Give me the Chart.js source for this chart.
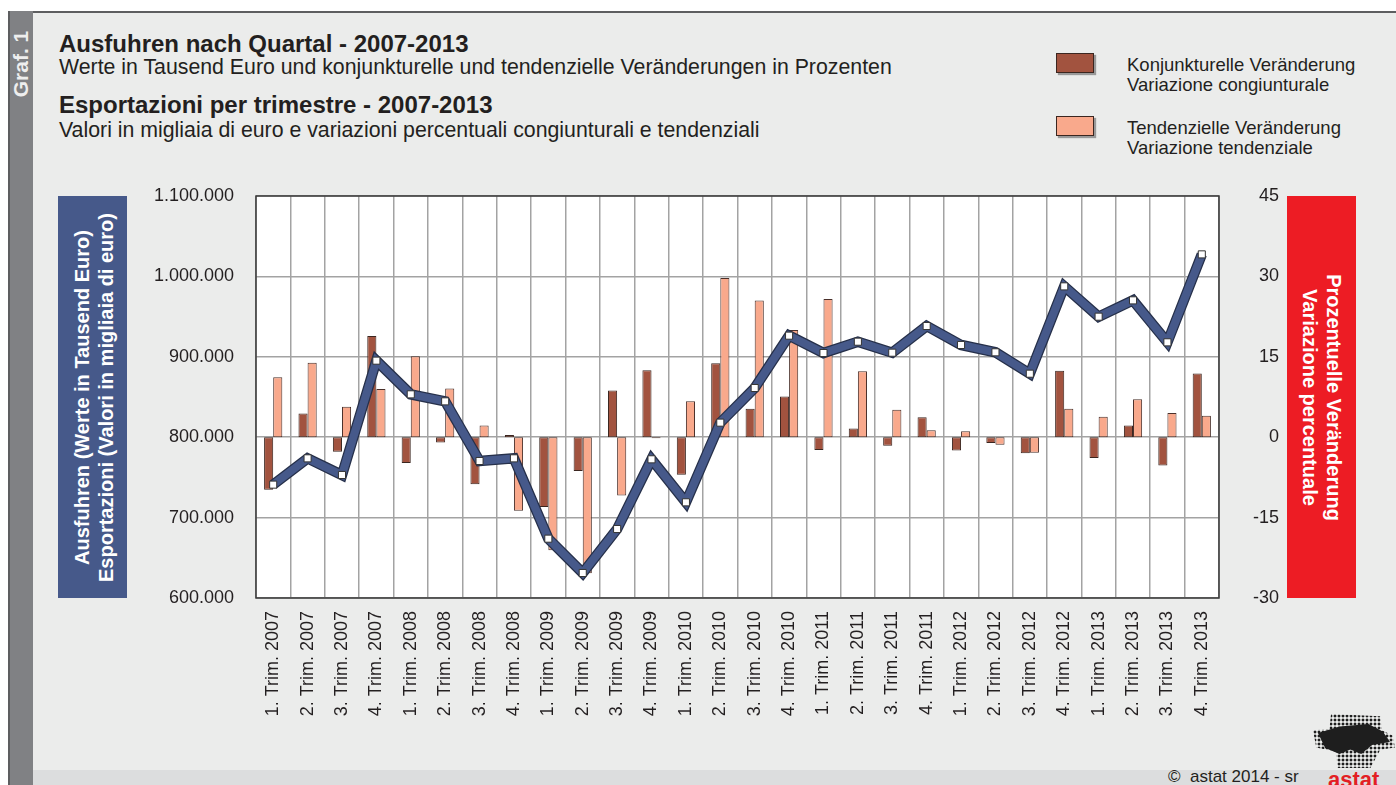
<!DOCTYPE html>
<html>
<head>
<meta charset="utf-8">
<script src="https://cdn.jsdelivr.net/npm/chart.js@4.4.0/dist/chart.umd.min.js"></script>
<style>
  body { margin:0; width:1396px; height:785px; overflow:hidden; background:#fff; position:relative;
         font-family:"Liberation Sans", Arial, sans-serif; color:#231f20; }
  .abs { position:absolute; white-space:nowrap; }
  #panel { position:absolute; left:8px; top:11px; width:1388px; height:774px; background:#ebeceb; border-top:2px solid #5d5e60; box-sizing:border-box; }
  #strip { position:absolute; left:8px; top:11px; width:25px; height:774px; background:#808184; border-left:2px solid #5d5e60; box-sizing:border-box; }
  #footer { position:absolute; left:33px; top:770px; width:1363px; height:15px; background:#dcddde; }
  .t1 { font-weight:bold; font-size:24px; line-height:24px; left:59px; }
  .t2 { font-size:21.3px; line-height:21px; left:59px; }
  .leg { left:1127px; font-size:18.5px; line-height:20px; }
  .box { position:absolute; left:1056px; width:38px; height:20px; border:1px solid #3b2620; box-sizing:border-box; box-shadow:2px 2px 1px rgba(0,0,0,0.35); }
  .side { position:absolute; top:196px; width:69px; height:402px; }
  .side div { position:absolute; left:-166.5px; top:166.5px; width:402px; height:69px; display:flex; flex-direction:column;
              justify-content:center; align-items:center; color:#fff; font-weight:bold; font-size:20px; line-height:24px; white-space:nowrap; }
  #logo { position:absolute; left:1313px; top:714px; width:82px; height:54px;
          background:radial-gradient(circle, #1e1e1e 1.3px, transparent 1.7px) 0 0/4px 4px;
          clip-path:polygon(22% 0,82% 4%,84% 30%,97% 40%,100% 62%,82% 66%,70% 100%,30% 100%,28% 70%,4% 62%,0 30%,20% 28%); }
  #logo2 { position:absolute; left:1318px; top:724px; width:72px; height:30px; background:#1e1e1e;
           clip-path:polygon(0 30%,30% 8%,70% 0,90% 25%,100% 60%,75% 70%,60% 100%,45% 85%,30% 100%,10% 80%); }
  canvas { position:absolute; left:0; top:0; }
</style>
</head>
<body>
<div id="panel"></div>
<div id="strip"></div>
<div id="footer"></div>
<div class="abs" style="left:11px;top:64px;width:20px;height:0;">
  <div style="position:absolute;left:-30px;top:-11px;width:80px;text-align:center;transform:rotate(-90deg);color:#eee;font-weight:bold;font-size:21px;line-height:22px;">Graf. 1</div>
</div>

<div class="abs t1" style="top:32px;">Ausfuhren nach Quartal - 2007-2013</div>
<div class="abs t2" style="top:57px;">Werte in Tausend Euro und konjunkturelle und tendenzielle Veränderungen in Prozenten</div>
<div class="abs t1" style="top:93px;">Esportazioni per trimestre - 2007-2013</div>
<div class="abs t2" style="top:120px;">Valori in migliaia di euro e variazioni percentuali congiunturali e tendenziali</div>

<div class="box" style="top:53px;background:#a2533f;"></div>
<div class="abs leg" style="top:55px;">Konjunkturelle Veränderung<br>Variazione congiunturale</div>
<div class="box" style="top:116px;background:#f9a98c;"></div>
<div class="abs leg" style="top:118px;">Tendenzielle Veränderung<br>Variazione tendenziale</div>

<div class="side" style="left:58px;background:#46598a;">
  <div style="transform:rotate(-90deg);"><span>Ausfuhren (Werte in Tausend Euro)</span><span>Esportazioni (Valori in migliaia di euro)</span></div>
</div>
<div class="side" style="left:1287px;background:#ed1c24;">
  <div style="transform:rotate(90deg);"><span>Prozentuelle Veränderung</span><span>Variazione percentuale</span></div>
</div>

<div id="logo"></div>
<div id="logo2"></div>
<div class="abs" style="left:1168px;top:767px;font-size:17px;line-height:20px;color:#231f20;">©&nbsp; astat 2014 - sr</div>
<div class="abs" style="left:1328px;top:769px;font-size:22px;line-height:22px;font-weight:bold;color:#e31e24;">astat</div>

<canvas id="myChart" width="1396" height="785"></canvas>

<script>
const labels = [
  "1. Trim. 2007", "2. Trim. 2007", "3. Trim. 2007", "4. Trim. 2007",
  "1. Trim. 2008", "2. Trim. 2008", "3. Trim. 2008", "4. Trim. 2008",
  "1. Trim. 2009", "2. Trim. 2009", "3. Trim. 2009", "4. Trim. 2009",
  "1. Trim. 2010", "2. Trim. 2010", "3. Trim. 2010", "4. Trim. 2010",
  "1. Trim. 2011", "2. Trim. 2011", "3. Trim. 2011", "4. Trim. 2011",
  "1. Trim. 2012", "2. Trim. 2012", "3. Trim. 2012", "4. Trim. 2012",
  "1. Trim. 2013", "2. Trim. 2013", "3. Trim. 2013", "4. Trim. 2013"
];

// exports, thousand euro (left axis)
const exportsK = [
  741000, 773700, 753000, 895200,
  853300, 844600, 770400, 773700,
  673800, 631100, 685800, 772500,
  719000, 818100, 861200, 926300,
  904700, 918800, 905100, 938300,
  914700, 905600, 879000, 987600,
  949900, 970200, 918000, 1027400
];

// konjunkturelle Veraenderung / variazione congiunturale (%)
const qoqPct = [
  -9.8, 4.4, -2.7, 18.9,
  -4.8, -1.0, -8.8, 0.4,
  -13.0, -6.3, 8.7, 12.5,
  -7.0, 13.8, 5.3, 7.6,
  -2.4, 1.6, -1.6, 3.7,
  -2.5, -1.1, -3.0, 12.4,
  -3.9, 2.2, -5.3, 11.9
];

// tendenzielle Veraenderung / variazione tendenziale (%)
const yoyPct = [
  11.2, 13.9, 5.7, 9.0,
  15.1, 9.1, 2.2, -13.7,
  -21.1, -25.4, -10.9, -0.2,
  6.7, 29.7, 25.5, 20.0,
  25.8, 12.3, 5.1, 1.3,
  1.1, -1.4, -2.9, 5.3,
  3.8, 7.1, 4.5, 4.0
];

const FONT = "'Liberation Sans', Arial, sans-serif";
const TEXT = "#231f20";
const GRID = "#a3a3a3";

function dotted(v) {
  return String(v).replace(/\B(?=(\d{3})+(?!\d))/g, ".");
}

const plotFrame = {
  id: "plotFrame",
  beforeDraw(chart) {
    const { ctx, chartArea: a } = chart;
    ctx.save();
    ctx.fillStyle = "#fff";
    ctx.fillRect(a.left, a.top, a.right - a.left, a.bottom - a.top);
    ctx.restore();
  },
  afterDraw(chart) {
    const { ctx, chartArea: a } = chart;
    ctx.save();
    ctx.strokeStyle = "#3a3a3a";
    ctx.lineWidth = 1.5;
    ctx.strokeRect(a.left, a.top, a.right - a.left, a.bottom - a.top);
    ctx.restore();
  }
};

const ctx = document.getElementById("myChart").getContext("2d");

new Chart(ctx, {
  type: "bar",
  data: {
    labels: labels,
    datasets: [
      {
        label: "Konjunkturelle Veränderung",
        data: qoqPct,
        yAxisID: "yR",
        backgroundColor: "#a2533f",
        borderColor: "#3b2620",
        borderWidth: 1,
        borderSkipped: false,
        categoryPercentage: 0.53,
        barPercentage: 1,
        order: 3
      },
      {
        label: "Tendenzielle Veränderung",
        data: yoyPct,
        yAxisID: "yR",
        backgroundColor: "#f9a98c",
        borderColor: "#4a302a",
        borderWidth: 1,
        borderSkipped: false,
        categoryPercentage: 0.53,
        barPercentage: 1,
        order: 3
      },
      {
        // dark outline under the export line
        type: "line",
        label: "outline",
        data: exportsK,
        yAxisID: "yL",
        borderColor: "#26304a",
        borderWidth: 10.5,
        pointRadius: 0,
        tension: 0,
        order: 1
      },
      {
        type: "line",
        label: "Ausfuhren",
        data: exportsK,
        yAxisID: "yL",
        borderColor: "#46598a",
        borderWidth: 8,
        pointStyle: "rect",
        pointRadius: 5,
        pointBackgroundColor: "#ffffff",
        pointBorderColor: "#333",
        pointBorderWidth: 1,
        tension: 0,
        order: 0
      }
    ]
  },
  options: {
    responsive: false,
    animation: false,
    layout: { padding: { left: 130, right: 117, top: 196, bottom: 57 } },
    plugins: {
      legend: { display: false },
      tooltip: { enabled: false }
    },
    scales: {
      x: {
        grid: { offset: true, color: GRID, lineWidth: 1.5, drawTicks: false },
        border: { display: false },
        ticks: {
          autoSkip: false, minRotation: 90, maxRotation: 90, padding: 13,
          color: TEXT, font: { family: FONT, size: 18 }
        },
        afterFit(scale) { scale.height = 130; }
      },
      yL: {
        position: "left",
        min: 600000, max: 1100000,
        grid: { color: GRID, lineWidth: 1.5, drawTicks: false },
        border: { display: false },
        ticks: {
          stepSize: 100000, padding: 22, color: TEXT,
          font: { family: FONT, size: 18 },
          callback: (v) => dotted(v)
        },
        afterFit(scale) { scale.width = 126; }
      },
      yR: {
        position: "right",
        min: -30, max: 45,
        grid: { display: false, drawTicks: false },
        border: { display: false },
        ticks: {
          stepSize: 15, padding: 18, crossAlign: "far", color: TEXT,
          font: { family: FONT, size: 18 }
        },
        afterFit(scale) { scale.width = 60; }
      }
    }
  },
  plugins: [plotFrame]
});
</script>
</body>
</html>
